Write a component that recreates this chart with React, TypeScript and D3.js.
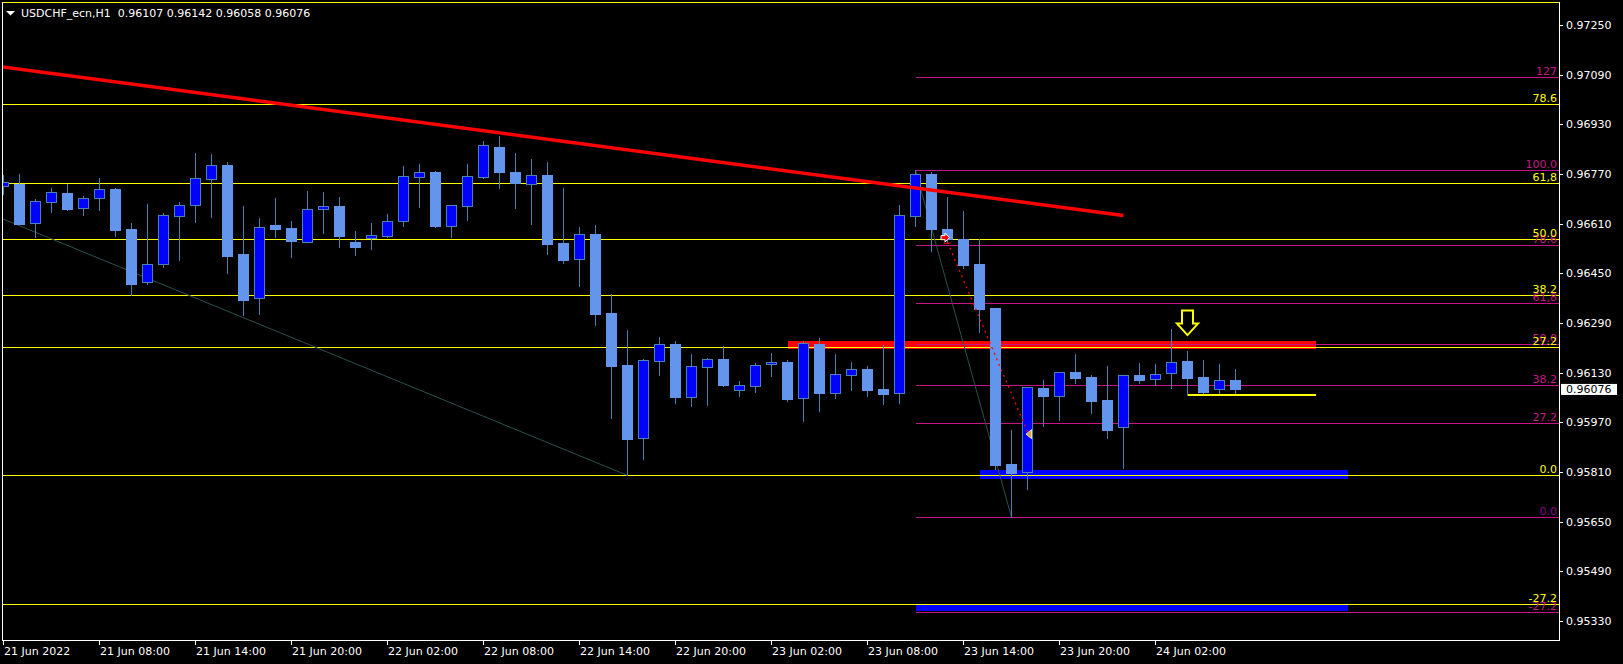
import React from 'react';
import * as d3 from 'd3';

const symbolName = 'USDCHF_ecn,H1';

// Hourly candles, bar 0 = 21 Jun 2022 02:00
const opens = [
  0.96730, 0.96739, 0.96611, 0.96679, 0.96709, 0.96660, 0.96692, 0.96722, 0.96593, 0.96421,
  0.96479, 0.96634, 0.96669, 0.96753, 0.96799, 0.96512, 0.96370, 0.96606, 0.96596, 0.96552,
  0.96656, 0.96667, 0.96551, 0.96563, 0.96569, 0.96618, 0.96759, 0.96776, 0.96603, 0.96668,
  0.96761, 0.96856, 0.96776, 0.96737, 0.96766, 0.96547, 0.96495, 0.96577, 0.96322, 0.96155,
  0.95919, 0.96167, 0.96222, 0.96051, 0.96149, 0.96174, 0.96073, 0.96088, 0.96157, 0.96164,
  0.96047, 0.96222, 0.96065, 0.96123, 0.96142, 0.96077, 0.96063, 0.96636, 0.96770, 0.96593,
  0.96560, 0.96480, 0.96338, 0.95836, 0.95809, 0.96081, 0.96054, 0.96132, 0.96116, 0.96042,
  0.95954, 0.96123, 0.96109, 0.96130, 0.96168, 0.96116, 0.96076, 0.96107,
];
const highs = [
  0.96767, 0.96770, 0.96688, 0.96725, 0.96739, 0.96699, 0.96757, 0.96725, 0.96612, 0.96673,
  0.96644, 0.96680, 0.96838, 0.96834, 0.96808, 0.96667, 0.96627, 0.96693, 0.96619, 0.96715,
  0.96712, 0.96696, 0.96586, 0.96612, 0.96641, 0.96796, 0.96802, 0.96780, 0.96669, 0.96802,
  0.96876, 0.96892, 0.96838, 0.96818, 0.96809, 0.96725, 0.96599, 0.96605, 0.96383, 0.96267,
  0.96173, 0.96245, 0.96232, 0.96190, 0.96177, 0.96216, 0.96103, 0.96162, 0.96194, 0.96172,
  0.96232, 0.96242, 0.96190, 0.96164, 0.96151, 0.96219, 0.96670, 0.96782, 0.96776, 0.96696,
  0.96651, 0.96560, 0.96338, 0.95945, 0.96083, 0.96106, 0.96132, 0.96190, 0.96121, 0.96151,
  0.96122, 0.96161, 0.96158, 0.96271, 0.96200, 0.96171, 0.96158, 0.96142,
];
const lows = [
  0.96705, 0.96608, 0.96568, 0.96649, 0.96655, 0.96639, 0.96655, 0.96571, 0.96380, 0.96416,
  0.96471, 0.96493, 0.96616, 0.96632, 0.96452, 0.96317, 0.96320, 0.96568, 0.96504, 0.96551,
  0.96581, 0.96536, 0.96510, 0.96529, 0.96567, 0.96602, 0.96665, 0.96600, 0.96568, 0.96623,
  0.96757, 0.96726, 0.96661, 0.96610, 0.96513, 0.96484, 0.96410, 0.96285, 0.95985, 0.95799,
  0.95853, 0.96123, 0.96033, 0.96024, 0.96027, 0.96087, 0.96055, 0.96069, 0.96119, 0.96039,
  0.95974, 0.96006, 0.96049, 0.96075, 0.96056, 0.96030, 0.96033, 0.96602, 0.96523, 0.96551,
  0.96467, 0.96262, 0.95819, 0.95664, 0.95756, 0.95959, 0.95978, 0.96098, 0.96001, 0.95920,
  0.95824, 0.96098, 0.96089, 0.96082, 0.96057, 0.96064, 0.96061, 0.96058,
];
const closes = [
  0.96743, 0.96610, 0.96682, 0.96711, 0.96657, 0.96692, 0.96721, 0.96591, 0.96417, 0.96479,
  0.96637, 0.96669, 0.96756, 0.96798, 0.96507, 0.96365, 0.96598, 0.96594, 0.96555, 0.96656,
  0.96666, 0.96571, 0.96536, 0.96573, 0.96619, 0.96763, 0.96775, 0.96602, 0.96669, 0.96763,
  0.96862, 0.96777, 0.96741, 0.96766, 0.96545, 0.96494, 0.96576, 0.96320, 0.96152, 0.95917,
  0.96171, 0.96221, 0.96051, 0.96150, 0.96174, 0.96090, 0.96090, 0.96154, 0.96164, 0.96045,
  0.96225, 0.96065, 0.96125, 0.96142, 0.96075, 0.96062, 0.96637, 0.96770, 0.96593, 0.96560,
  0.96477, 0.96335, 0.95833, 0.95808, 0.96083, 0.96056, 0.96132, 0.96114, 0.96040, 0.95946,
  0.96122, 0.96107, 0.96125, 0.96164, 0.96114, 0.96069, 0.96106, 0.96076,
];

const timeLabels = [
  '21 Jun 2022', '21 Jun 08:00', '21 Jun 14:00', '21 Jun 20:00', '22 Jun 02:00', '22 Jun 08:00',
  '22 Jun 14:00', '22 Jun 20:00', '23 Jun 02:00', '23 Jun 08:00', '23 Jun 14:00', '23 Jun 20:00',
  '24 Jun 02:00',
];
const timeLabelBars = [0, 6, 12, 18, 24, 30, 36, 42, 48, 54, 60, 66, 72];

const priceTicks = [
  0.9725, 0.9709, 0.9693, 0.9677, 0.9661, 0.9645, 0.9629, 0.9613, 0.9597, 0.9581, 0.9565, 0.9549, 0.9533,
];

// Fibonacci retracement 1 (yellow): anchors [bar, price] for level 0 and level 100
const yellowFibBars = [39, -33];
const yellowFibPrices = [0.95799, 0.97323];
const yellowFibLevels = [-27.2, 0, 27.2, 38.2, 50, 61.8, 78.6, 100];
// the 100.0 label lies above the visible area in the reference
const yellowFibLabels = ['-27.2', '0.0', '27.2', '38.2', '50.0', '61,8', '78.6', ''];

// Fibonacci retracement 2 (magenta)
const pinkFibBars = [63, 57];
const pinkFibPrices = [0.95664, 0.96782];
const pinkFibLevels = [-27.2, 0, 27.2, 38.2, 50, 61.8, 78.6, 100, 127];
const pinkFibLabels = ['-27.2', '0.0', '27.2', '38.2', '50.0', '61,8', '78.6', '100.0', '127'];

// Red descending trend line
const trendBars = [-10, 70];
const trendPrices = [0.97183, 0.96636];

// Zones: [bar start, bar end], [price top, price bottom]
const redZoneBars = [49, 82];
const redZonePrices = [0.96232, 0.96206];
const blueZone1Bars = [61, 84];
const blueZone1Prices = [0.95816, 0.95787];
const blueZone2Bars = [57, 84];
const blueZone2Prices = [0.95385, 0.95362];

// Short yellow support line
const supportBars = [74, 82];
const supportPrice = 0.96058;

// Trade history (sell) open -> close
const tradeBars = [59, 64];
const tradePrices = [0.96550, 0.95940];
const tradeArrowPrices = [0.96565, 0.95932];

// Down arrow marker
const arrowBar = 74;
const arrowPrice = 0.96251;

const W = 1623;
const H = 664;
const FONT = '"DejaVu Sans", Verdana, sans-serif';

export default function App() {
  const x = d3.scaleLinear().domain([0, 72]).range([3.5, 1155.5]);
  const y = d3.scaleLinear().domain([0.9533, 0.9725]).range([621, 25]);
  const ry = (p: number) => Math.round(y(p));

  const chartL = 2, chartT = 2, chartR = 1559, chartB = 640;
  const last = opens.length - 1;
  const header = `${symbolName}  ${opens[last].toFixed(5)} ${highs[last].toFixed(5)} ${lows[last].toFixed(5)} ${closes[last].toFixed(5)}`;

  const fibPrice = (prices: number[], level: number) => prices[0] + (prices[1] - prices[0]) * level / 100;

  const line = d3.line<[number, number]>().x(d => x(d[0])).y(d => y(d[1]));

  const yellowFibStart = Math.min(...yellowFibBars);
  const pinkFibStart = Math.min(...pinkFibBars);

  const tx = x(arrowBar);
  const ty = y(arrowPrice);
  const arrowPath = `M${tx},${ty} L${tx - 10.5},${ty - 11.5} L${tx - 5.5},${ty - 11.5} L${tx - 5.5},${ty - 24.5} L${tx + 5.5},${ty - 24.5} L${tx + 5.5},${ty - 11.5} L${tx + 10.5},${ty - 11.5} Z`;

  const ox = x(tradeBars[0]);
  const oy = y(tradeArrowPrices[0]);
  const redArrow = `M${ox - 6.5},${oy - 2} L${ox - 2.5},${oy - 2} L${ox - 2.5},${oy - 4.5} L${ox + 2},${oy} L${ox - 2.5},${oy + 4.5} L${ox - 2.5},${oy + 2} L${ox - 6.5},${oy + 2} Z`;
  const cx = x(tradeBars[1]);
  const cy = y(tradeArrowPrices[1]);
  const closeTri = `M${cx - 1.5},${cy} L${cx + 4},${cy - 4.5} L${cx + 4},${cy + 4.5} Z`;

  const hLine = (key: string, x1: number, p: number, color: string) => {
    const yy = ry(p) + 0.5;
    return <line key={key} x1={x1} x2={chartR} y1={yy} y2={yy} stroke={color} strokeWidth={1} shapeRendering="crispEdges" />;
  };

  return (
    <div style={{ position: 'absolute', left: 0, top: 0, width: W, height: H, background: '#000' }}>
      <svg width={W} height={H} style={{ display: 'block', background: '#000' }} fontFamily={FONT} fontSize={11}>
        <defs>
          <clipPath id="plot">
            <rect x={chartL + 1} y={chartT} width={chartR - chartL - 1} height={chartB - chartT} />
          </clipPath>
        </defs>
        <rect x={0} y={0} width={W} height={H} fill="#000" />

        <g clipPath="url(#plot)">
          {pinkFibLevels.map((lv, i) => hLine('pf' + i, x(pinkFibStart), fibPrice(pinkFibPrices, lv), '#C71585'))}

          {/* zones */}
          <rect x={x(redZoneBars[0])} y={y(redZonePrices[0])} width={x(redZoneBars[1]) - x(redZoneBars[0])} height={y(redZonePrices[1]) - y(redZonePrices[0])} fill="#FF0000" shapeRendering="crispEdges" />
          <rect x={x(blueZone1Bars[0])} y={y(blueZone1Prices[0])} width={x(blueZone1Bars[1]) - x(blueZone1Bars[0])} height={y(blueZone1Prices[1]) - y(blueZone1Prices[0])} fill="#0000FF" shapeRendering="crispEdges" />
          <rect x={x(blueZone2Bars[0])} y={y(blueZone2Prices[0])} width={x(blueZone2Bars[1]) - x(blueZone2Bars[0])} height={y(blueZone2Prices[1]) - y(blueZone2Prices[0])} fill="#0000FF" shapeRendering="crispEdges" />

          {yellowFibLevels.map((lv, i) => hLine('yf' + i, x(yellowFibStart), fibPrice(yellowFibPrices, lv), '#FFFF00'))}
          {hLine('pf50', x(pinkFibStart), fibPrice(pinkFibPrices, 50), '#C71585')}

          {/* fib anchor lines */}
          <path d={line([[yellowFibBars[0], yellowFibPrices[0]], [yellowFibBars[1], yellowFibPrices[1]]]) || ''} stroke="#2F4F4F" strokeWidth={1} fill="none" />
          <path d={line([[pinkFibBars[0], pinkFibPrices[0]], [pinkFibBars[1], pinkFibPrices[1]]]) || ''} stroke="#2F4F4F" strokeWidth={1} fill="none" />

          {/* candles */}
          {opens.map((o, i) => {
            const c = closes[i];
            const xc = x(i);
            const bull = c >= o;
            const top = ry(Math.max(o, c));
            const bot = ry(Math.min(o, c));
            return (
              <g key={'c' + i}>
                <line x1={xc} x2={xc} y1={ry(highs[i])} y2={ry(lows[i]) + 1} stroke="#4682B4" strokeWidth={1} shapeRendering="crispEdges" />
                <rect x={xc - 5} y={top + 0.5} width={10} height={Math.max(bot - top, 0.01)}
                  fill={bull ? '#0000FF' : '#6495ED'} stroke={bull ? '#4682B4' : '#6495ED'} strokeWidth={1} shapeRendering="crispEdges" />
              </g>
            );
          })}

          {/* red trend line */}
          <path d={line([[trendBars[0], trendPrices[0]], [trendBars[1], trendPrices[1]]]) || ''} stroke="#FF0000" strokeWidth={3.5} fill="none" />

          {/* yellow short support line */}
          <line x1={x(supportBars[0])} x2={x(supportBars[1])} y1={y(supportPrice)} y2={y(supportPrice)} stroke="#FFFF00" strokeWidth={2} shapeRendering="crispEdges" />

          {/* trade history */}
          <path d={line([[tradeBars[0], tradePrices[0]], [tradeBars[1], tradePrices[1]]]) || ''} stroke="#FF0000" strokeWidth={1.3} strokeDasharray="2 4" fill="none" />
          <line x1={ox - 4} x2={ox + 3} y1={y(tradePrices[0]) + 1} y2={y(tradePrices[0]) + 1} stroke="#FF0000" strokeWidth={1} />
          <path d={redArrow} fill="#FF0000" stroke="#FFFFFF" strokeWidth={1} />
          <path d={closeTri} fill="#DAA520" stroke="#FFFFFF" strokeWidth={0.8} />

          {/* yellow down arrow */}
          <path d={arrowPath} fill="#000" stroke="#FFFF00" strokeWidth={2} strokeLinejoin="miter" />

          {/* fib labels */}
          {pinkFibLevels.map((lv, i) => (
            <text key={'pl' + i} x={1557} y={y(fibPrice(pinkFibPrices, lv)) - 2} textAnchor="end" fill={lv === 0 ? '#8B008B' : '#C71585'}>{pinkFibLabels[i]}</text>
          ))}
          {yellowFibLevels.map((lv, i) => yellowFibLabels[i] ? (
            <text key={'yl' + i} x={1557} y={y(fibPrice(yellowFibPrices, lv)) - 2} textAnchor="end" fill="#FFFF00">{yellowFibLabels[i]}</text>
          ) : null)}
        </g>

        {/* frame */}
        <rect x={chartL + 0.5} y={chartT + 0.5} width={chartR - chartL} height={chartB - chartT} fill="none" stroke="#FFFFFF" strokeWidth={1} shapeRendering="crispEdges" />
        <line x1={chartL} x2={chartR} y1={ry(yellowFibPrices[1]) + 0.5} y2={ry(yellowFibPrices[1]) + 0.5} stroke="#FFFF00" strokeWidth={1} shapeRendering="crispEdges" />

        {/* price axis */}
        {priceTicks.map((p, i) => (
          <g key={'pt' + i}>
            <line x1={chartR + 1} x2={chartR + 4} y1={ry(p) + 0.5} y2={ry(p) + 0.5} stroke="#FFFFFF" shapeRendering="crispEdges" />
            <text x={1566} y={y(p)} dy="0.36em" fill="#FFFFFF">{p.toFixed(5)}</text>
          </g>
        ))}

        {/* current price tag */}
        <rect x={1561} y={y(closes[last]) - 5.5} width={56} height={11} fill="#FFFFFF" />
        <text x={1566} y={y(closes[last])} dy="0.36em" fill="#000000">{closes[last].toFixed(5)}</text>

        {/* time axis */}
        {timeLabelBars.map((b, i) => (
          <g key={'tl' + i}>
            <line x1={x(b)} x2={x(b)} y1={chartB + 1} y2={chartB + 5} stroke="#FFFFFF" shapeRendering="crispEdges" />
            <text x={x(b) + 0.5} y={655} fill="#FFFFFF">{timeLabels[i]}</text>
          </g>
        ))}

        {/* header */}
        <path d="M6,11 L15,11 L10.5,15.5 Z" fill="#FFFFFF" />
        <text x={21} y={17} fill="#FFFFFF" style={{ whiteSpace: 'pre' }}>{header}</text>
      </svg>
    </div>
  );
}
